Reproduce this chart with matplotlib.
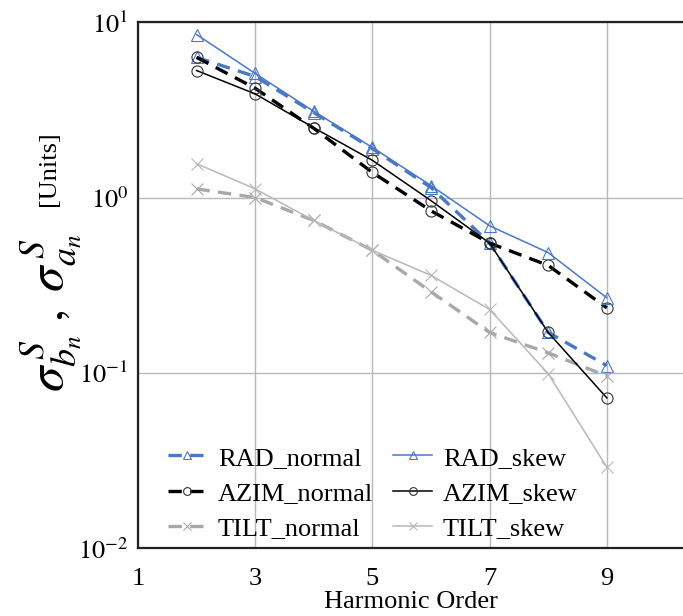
import numpy as np
import matplotlib
matplotlib.use("Agg")
import matplotlib.pyplot as plt

plt.rcParams['font.family'] = ['Liberation Serif', 'DejaVu Serif']
plt.rcParams['mathtext.fontset'] = 'stix'

# harmonic orders and the sigma values
orders = [2, 3, 4, 5, 6, 7, 8, 9]
rad_normal = [6.3, 4.9, 3.05, 1.9, 1.14, 0.55, 0.17, 0.11]
rad_skew = [8.5, 5.1, 3.1, 1.93, 1.17, 0.69, 0.485, 0.268]
azim_normal = [6.3, 4.2, 2.48, 1.39, 0.84, 0.55, 0.41, 0.235]
azim_skew = [5.3, 3.9, 2.5, 1.63, 0.96, 0.55, 0.17, 0.072]
tilt_normal = [1.12, 1.0, 0.74, 0.5, 0.29, 0.17, 0.13, 0.096]
tilt_skew = [1.56, 1.12, 0.74, 0.5, 0.36, 0.23, 0.099, 0.029]

blue = '#4a78c4'
gray_n = '#a8a8a8'
gray_s = '#b8b8b8'

fig = plt.figure(figsize=(6.83, 6.16), dpi=100)
ax = fig.add_axes([0.202, 0.110, 0.798, 0.854])

# legend order is column-wise: normals first, then skews
ax.plot(orders, rad_normal, '--', color=blue, lw=2.4, dashes=(4, 2.5),
        marker='^', ms=8, mfc='none', mec=blue, mew=0.8, label='RAD_normal')
ax.plot(orders, azim_normal, '--', color='black', lw=2.4, dashes=(4, 2.5),
        marker='o', ms=8, mfc='none', mec='#333333', mew=0.8, label='AZIM_normal')
ax.plot(orders, tilt_normal, '--', color=gray_n, lw=2.4, dashes=(4, 2.5),
        marker='x', ms=9, mec=gray_n, mew=0.8, label='TILT_normal')
ax.plot(orders, rad_skew, '-', color=blue, lw=1.1,
        marker='^', ms=8, mfc='none', mec=blue, mew=0.8, label='RAD_skew')
ax.plot(orders, azim_skew, '-', color='black', lw=1.1,
        marker='o', ms=8, mfc='none', mec='#333333', mew=0.8, label='AZIM_skew')
ax.plot(orders, tilt_skew, '-', color=gray_s, lw=1.1,
        marker='x', ms=9, mec=gray_s, mew=0.8, label='TILT_skew')

ax.set_yscale('log')
ax.set_ylim(0.01, 10)
ax.set_xlim(1, 10.3)
ax.set_xticks([1, 3, 5, 7, 9])
ax.set_yticks([0.01, 0.1, 1, 10])
ax.set_yticklabels(['$10^{-2}$', '$10^{-1}$', '$10^{0}$', '$10^{1}$'])
ax.minorticks_off()
ax.tick_params(length=0, labelsize=19, pad=7)
ax.tick_params(axis='x', pad=14)
ax.grid(True, color='#b8b8b8', lw=1.0)
ax.set_axisbelow(True)

for side in ['left', 'bottom', 'top']:
    ax.spines[side].set_color('#222222')
    ax.spines[side].set_linewidth(1.6)
ax.spines['right'].set_visible(False)

ax.set_xlabel('Harmonic Order', fontsize=19, labelpad=1)

fig.text(0.075, 0.492, r'$\sigma^{\,S}_{b_n}\;,\;\sigma^{\,S}_{a_n}$', rotation=90,
         fontsize=37, ha='center', va='center')
fig.text(0.072, 0.727, '[Units]', rotation=90, fontsize=19,
         ha='center', va='center')

ax.legend(ncol=2, loc='lower left', frameon=False, fontsize=19,
          handlelength=1.5, handletextpad=0.4, columnspacing=0.75,
          labelspacing=0.45, borderaxespad=0.0, borderpad=0.3,
          markerscale=0.7, bbox_to_anchor=(0.04, 0.0))

fig.savefig('out.png', dpi=100)
